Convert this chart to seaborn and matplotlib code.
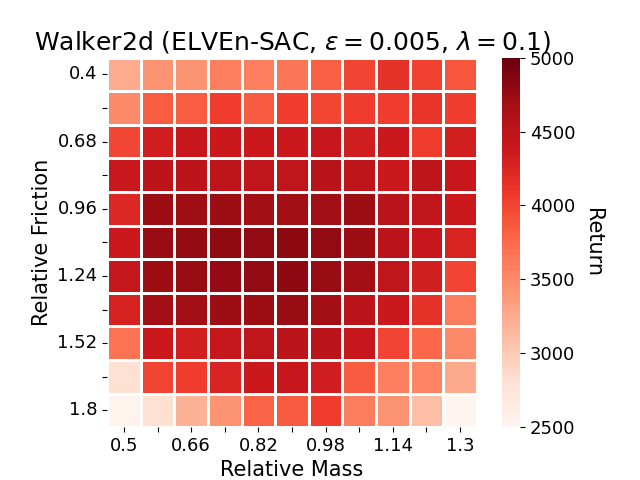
import matplotlib
matplotlib.use("Agg")
import matplotlib.pyplot as plt
import seaborn as sns
import numpy as np
import pandas as pd

mass = [0.5, 0.58, 0.66, 0.74, 0.82, 0.9, 0.98, 1.06, 1.14, 1.22, 1.3]
friction = [0.4, 0.54, 0.68, 0.82, 0.96, 1.1, 1.24, 1.38, 1.52, 1.66, 1.8]

r040 = [3250, 3420, 3430, 3580, 3590, 3660, 3820, 4000, 4150, 4020, 3880]
r054 = [3500, 3830, 3830, 4060, 3840, 4050, 3990, 4060, 4050, 4130, 4050]
r068 = [3980, 4330, 4400, 4380, 4380, 4370, 4410, 4330, 4380, 4060, 4320]
r082 = [4390, 4500, 4500, 4490, 4470, 4470, 4540, 4480, 4370, 4480, 4410]
r096 = [4230, 4720, 4710, 4730, 4690, 4690, 4700, 4720, 4520, 4470, 4375]
r110 = [4380, 4740, 4770, 4790, 4780, 4810, 4780, 4720, 4510, 4410, 4270]
r124 = [4420, 4730, 4740, 4760, 4780, 4800, 4740, 4690, 4470, 4320, 4000]
r138 = [4280, 4690, 4700, 4720, 4720, 4750, 4690, 4510, 4380, 4150, 3600]
r152 = [3680, 4375, 4320, 4420, 4470, 4510, 4510, 4410, 4000, 3760, 3500]
r166 = [2810, 4000, 4060, 4260, 4370, 4400, 4330, 3850, 3590, 3550, 3270]
r180 = [2530, 2810, 3200, 3430, 3780, 3850, 4060, 3600, 3420, 3100, 2500]

rows = [r040, r054, r068, r082, r096, r110, r124, r138, r152, r166, r180]
df = pd.DataFrame(rows, index=friction, columns=mass)

xlabels = [f"{m:g}" if i % 2 == 0 else "" for i, m in enumerate(mass)]
ylabels = [f"{f:g}" if i % 2 == 0 else "" for i, f in enumerate(friction)]

fig, ax = plt.subplots(figsize=(6.4, 4.8), dpi=100)
hm = sns.heatmap(df, ax=ax, cmap="Reds", vmin=2500, vmax=5000, square=True,
                 linewidths=1, linecolor="white",
                 xticklabels=xlabels, yticklabels=ylabels)
ax.tick_params(axis="both", labelsize=13)
plt.setp(ax.get_xticklabels(), rotation=0)
plt.setp(ax.get_yticklabels(), rotation=0)
ax.set_xlabel("Relative Mass", fontsize=15)
ax.set_ylabel("Relative Friction", fontsize=15)
ax.set_title(r"Walker2d (ELVEn-SAC, $\epsilon=0.005$, $\lambda=0.1$)", fontsize=18)
cbar = hm.collections[0].colorbar
cbar.ax.tick_params(labelsize=13)
cbar.set_label("Return", fontsize=15, rotation=270, labelpad=20)
fig.savefig("out.png", dpi=100)
